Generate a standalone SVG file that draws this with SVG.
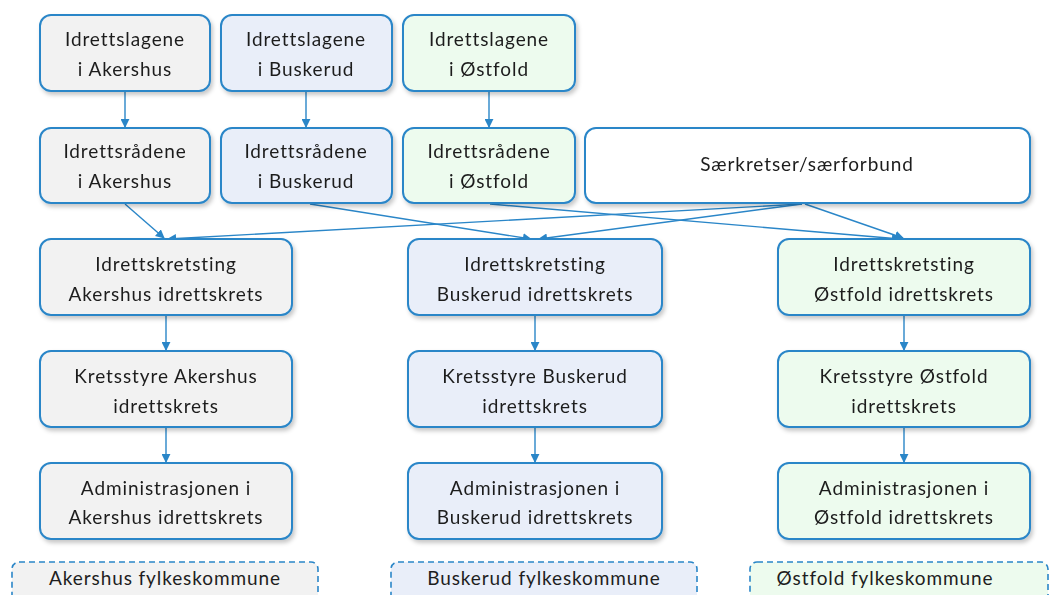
<svg xmlns="http://www.w3.org/2000/svg" width="1053" height="595" viewBox="0 0 1053 595">
<style>
.b{stroke:#2a86c8;stroke-width:2}
.g{fill:#f2f2f2}.bl{fill:#e9eef9}.gr{fill:#edfbee}.w{fill:#ffffff}
.d{stroke:#2a86c8;stroke-width:1.6;stroke-dasharray:6 4}
text{font-family:Lato,"Open Sans",sans-serif;font-size:19px;letter-spacing:0.9px;fill:#1e1e1e;text-anchor:middle}
.c{stroke:#2a86c8;stroke-width:1.4;fill:none;marker-end:url(#a)}
</style>
<defs>
<marker id="a" viewBox="0 0 10 10" refX="9" refY="5" markerWidth="9" markerHeight="9" markerUnits="userSpaceOnUse" orient="auto">
<path d="M0,0 L10,5 L0,10 z" fill="#2a86c8"/>
</marker>
<filter id="s" x="-10%" y="-10%" width="125%" height="130%">
<feDropShadow dx="2" dy="3" stdDeviation="2" flood-color="#000" flood-opacity="0.22"/>
</filter>
</defs>
<rect width="1053" height="595" fill="#ffffff"/>
<g id="connectors">
<line class="c" x1="125" y1="92" x2="125" y2="127"/>
<line class="c" x1="306" y1="92" x2="306" y2="127"/>
<line class="c" x1="489" y1="92" x2="489" y2="127"/>
<line class="c" x1="125" y1="204" x2="164" y2="238"/>
<line class="c" x1="310" y1="204" x2="531" y2="239"/>
<line class="c" x1="490" y1="204" x2="900" y2="239"/>
<line class="c" x1="802" y1="204" x2="168" y2="239"/>
<line class="c" x1="802" y1="204" x2="539" y2="239"/>
<line class="c" x1="805" y1="204" x2="903" y2="238"/>
<line class="c" x1="166" y1="316" x2="166" y2="350"/>
<line class="c" x1="535" y1="316" x2="535" y2="350"/>
<line class="c" x1="904" y1="316" x2="904" y2="350"/>
<line class="c" x1="166" y1="428" x2="166" y2="462"/>
<line class="c" x1="535" y1="428" x2="535" y2="462"/>
<line class="c" x1="904" y1="428" x2="904" y2="462"/>
</g>
<g id="lag-akershus" filter="url(#s)"><rect class="b g" x="40" y="15" width="170" height="76" rx="11"/><text x="125" y="46">Idrettslagene</text><text x="125" y="76">i Akershus</text></g>
<g id="lag-buskerud" filter="url(#s)"><rect class="b bl" x="221" y="15" width="171" height="76" rx="11"/><text x="306" y="46">Idrettslagene</text><text x="306" y="76">i Buskerud</text></g>
<g id="lag-ostfold" filter="url(#s)"><rect class="b gr" x="403" y="15" width="172" height="76" rx="11"/><text x="489" y="46">Idrettslagene</text><text x="489" y="76">i Østfold</text></g>
<g id="rad-akershus" filter="url(#s)"><rect class="b g" x="40" y="128" width="170" height="75" rx="11"/><text x="125" y="158">Idrettsrådene</text><text x="125" y="188">i Akershus</text></g>
<g id="rad-buskerud" filter="url(#s)"><rect class="b bl" x="221" y="128" width="171" height="75" rx="11"/><text x="306" y="158">Idrettsrådene</text><text x="306" y="188">i Buskerud</text></g>
<g id="rad-ostfold" filter="url(#s)"><rect class="b gr" x="403" y="128" width="172" height="75" rx="11"/><text x="489" y="158">Idrettsrådene</text><text x="489" y="188">i Østfold</text></g>
<g id="saerkretser" filter="url(#s)"><rect class="b w" x="585" y="128" width="445" height="75" rx="11"/><text x="807" y="171">Særkretser/særforbund</text></g>
<g id="ting-akershus" filter="url(#s)"><rect class="b g" x="40" y="239" width="252" height="76" rx="11"/><text x="166" y="271">Idrettskretsting</text><text x="166" y="301">Akershus idrettskrets</text></g>
<g id="ting-buskerud" filter="url(#s)"><rect class="b bl" x="408" y="239" width="254" height="76" rx="11"/><text x="535" y="271">Idrettskretsting</text><text x="535" y="301">Buskerud idrettskrets</text></g>
<g id="ting-ostfold" filter="url(#s)"><rect class="b gr" x="778" y="239" width="252" height="76" rx="11"/><text x="904" y="271">Idrettskretsting</text><text x="904" y="301">Østfold idrettskrets</text></g>
<g id="styre-akershus" filter="url(#s)"><rect class="b g" x="40" y="351" width="252" height="76" rx="11"/><text x="166" y="383">Kretsstyre Akershus</text><text x="166" y="413">idrettskrets</text></g>
<g id="styre-buskerud" filter="url(#s)"><rect class="b bl" x="408" y="351" width="254" height="76" rx="11"/><text x="535" y="383">Kretsstyre Buskerud</text><text x="535" y="413">idrettskrets</text></g>
<g id="styre-ostfold" filter="url(#s)"><rect class="b gr" x="778" y="351" width="252" height="76" rx="11"/><text x="904" y="383">Kretsstyre Østfold</text><text x="904" y="413">idrettskrets</text></g>
<g id="adm-akershus" filter="url(#s)"><rect class="b g" x="40" y="463" width="252" height="76" rx="11"/><text x="166" y="495">Administrasjonen i</text><text x="166" y="524">Akershus idrettskrets</text></g>
<g id="adm-buskerud" filter="url(#s)"><rect class="b bl" x="408" y="463" width="254" height="76" rx="11"/><text x="535" y="495">Administrasjonen i</text><text x="535" y="524">Buskerud idrettskrets</text></g>
<g id="adm-ostfold" filter="url(#s)"><rect class="b gr" x="778" y="463" width="252" height="76" rx="11"/><text x="904" y="495">Administrasjonen i</text><text x="904" y="524">Østfold idrettskrets</text></g>
<g id="fylke-akershus"><rect class="d g" x="12" y="562" width="306" height="40" rx="7"/><text x="165" y="585">Akershus fylkeskommune</text></g>
<g id="fylke-buskerud"><rect class="d bl" x="391" y="562" width="306" height="40" rx="7"/><text x="544" y="585">Buskerud fylkeskommune</text></g>
<g id="fylke-ostfold"><rect class="d gr" x="750" y="562" width="298" height="40" rx="7"/><text x="885" y="585">Østfold fylkeskommune</text></g>
</svg>
